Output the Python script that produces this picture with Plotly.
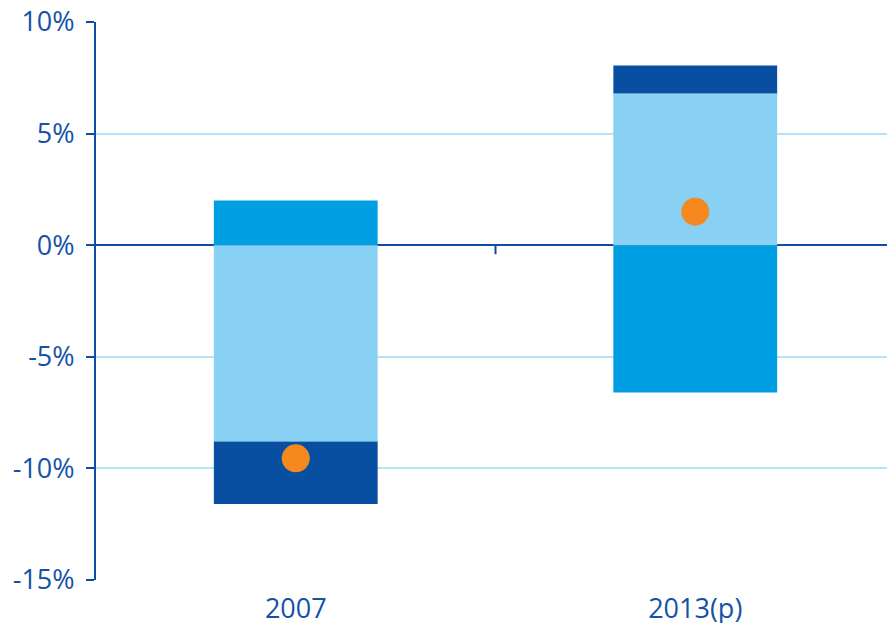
import plotly.graph_objects as go

categories = ["2007", "2013(p)"]
series_mid = [2.0, -6.6]      # medium blue
series_light = [-8.8, 6.8]    # light blue
series_dark = [-2.8, 1.25]    # dark blue
total = [-9.55, 1.5]          # orange dots
y_ticks = [10, 5, 0, -5, -10, -15]
y_tick_labels = ["10%", "5%", "0%", "-5%", "-10%", "-15%"]

axis_blue = "#0b4ea2"
font = dict(family="Open Sans, Noto Sans, sans-serif", size=27, color="#1552a6")

fig = go.Figure()
fig.add_bar(x=categories, y=series_mid, marker=dict(color="#009fe3", line=dict(width=0)), width=0.41)
fig.add_bar(x=categories, y=series_light, marker=dict(color="#89d1f3", line=dict(width=0)), width=0.41)
fig.add_bar(x=categories, y=series_dark, marker=dict(color="#084fa1", line=dict(width=0)), width=0.41)
fig.add_scatter(x=categories, y=total, mode="markers",
                marker=dict(color="#f5891f", size=28, line=dict(width=0)))

# small tick between categories at the zero line
fig.add_shape(type="line", xref="x", yref="paper", x0=0.5, x1=0.5,
              y0=(0 - (-15)) / 25, y1=(0 - (-15)) / 25 - 9 / 558,
              line=dict(color=axis_blue, width=2))

fig.update_layout(
    barmode="relative",
    showlegend=False,
    width=887, height=615,
    margin=dict(l=88, r=0, t=14, b=43, autoexpand=False),
    plot_bgcolor="white", paper_bgcolor="white",
    font=font,
)
fig.update_xaxes(showline=False, ticks="", showgrid=False, tickfont=font,
                 range=[-0.5, 1.5], ticklabelstandoff=10, automargin=False,
                 ticklabeloverflow="allow")
fig.update_yaxes(range=[-15, 10], tickvals=y_ticks, ticktext=y_tick_labels,
                 showgrid=True, gridcolor="#b5e3f7", gridwidth=2,
                 zeroline=True, zerolinecolor=axis_blue, zerolinewidth=2,
                 showline=True, linecolor=axis_blue, linewidth=2,
                 ticks="outside", ticklen=8, tickcolor=axis_blue, tickwidth=2,
                 tickfont=font, ticklabelstandoff=6, ticklabeloverflow="allow",
                 automargin=False)

fig.write_html("out.html")
